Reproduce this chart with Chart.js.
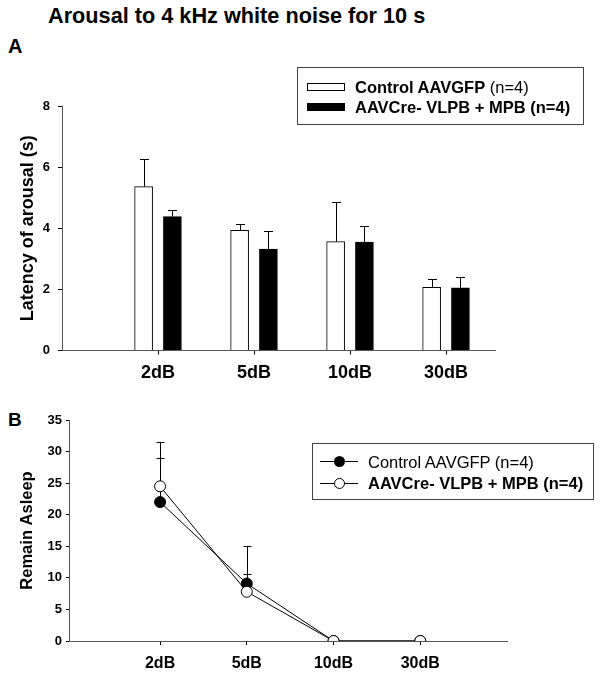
<!DOCTYPE html>
<html>
<head>
<meta charset="utf-8">
<script src="https://cdn.jsdelivr.net/npm/chart.js@4.4.1/dist/chart.umd.min.js"></script>
<style>
  body { margin: 0; background: #fff; font-family: 'Liberation Sans', Arial, sans-serif; color: #000; }
  #page { position: relative; width: 602px; height: 677px; overflow: hidden; }
  canvas { position: absolute; left: 0; }
  .txt { position: absolute; white-space: nowrap; line-height: 1; }
  .legend { position: absolute; border: 1px solid #444; box-sizing: border-box; }
  .row { position: absolute; white-space: nowrap; font-size: 16.5px; line-height: 20px; }
</style>
</head>
<body>
<div id="page">
  <div class="txt" style="left:48px; top:5px; font-size:21.7px; font-weight:bold;">Arousal to 4 kHz white noise for 10 s</div>
  <div class="txt" style="left:8px; top:36px; font-size:20px; font-weight:bold;">A</div>
  <div class="txt" style="left:8px; top:410px; font-size:19px; font-weight:bold;">B</div>

  <canvas id="chartA" width="602" height="390" style="top:0px;"></canvas>
  <canvas id="chartB" width="602" height="287" style="top:390px;"></canvas>

  <div class="legend" style="left:297px; top:67px; width:287px; height:58px;"></div>
  <div style="position:absolute; left:307px; top:83px; width:38px; height:8px; border:1px solid #000; box-sizing:border-box; background:#fff;"></div>
  <div class="row" style="left:355px; top:77px;"><b>Control AAVGFP</b> (n=4)</div>
  <div style="position:absolute; left:307px; top:103px; width:38px; height:8px; background:#000;"></div>
  <div class="row" style="left:355px; top:97px; font-weight:bold;">AAVCre- VLPB + MPB (n=4)</div>

  <div class="legend" style="left:312px; top:443px; width:282px; height:57px;"></div>
  <div style="position:absolute; left:320px; top:461px; width:38px; height:1px; background:#000;"></div>
  <div style="position:absolute; left:334px; top:456px; width:11px; height:11px; border-radius:50%; background:#000;"></div>
  <div class="row" style="left:368px; top:452px;">Control AAVGFP (n=4)</div>
  <div style="position:absolute; left:320px; top:483px; width:38px; height:1px; background:#000;"></div>
  <div style="position:absolute; left:334px; top:478px; width:11px; height:11px; border-radius:50%; background:#fff; border:1px solid #000; box-sizing:border-box;"></div>
  <div class="row" style="left:368px; top:473px; font-weight:bold;">AAVCre- VLPB + MPB (n=4)</div>
</div>

<script>
// stimulus intensities
const doseLabels = ['2dB', '5dB', '10dB', '30dB'];

// panel A: latency of arousal (s), mean and SE
const latencyControl = [5.36, 3.93, 3.56, 2.07];
const latencyControlSE = [0.89, 0.20, 1.31, 0.27];
const latencyCre = [4.38, 3.32, 3.55, 2.05];
const latencyCreSE = [0.21, 0.59, 0.51, 0.36];

// panel B: remain asleep, mean and SE
const asleepControl = [22, 9.1, 0, 0];
const asleepControlSE = [7, 5.9, 0, 0];
const asleepCre = [24.5, 7.8, 0, 0];
const asleepCreSE = [7, 2.8, 0, 0];

const FONT = "'Liberation Sans', Arial, sans-serif";
Chart.defaults.font.family = FONT;
Chart.defaults.color = '#000';
Chart.defaults.animation = false;

// upward-only error bars, drawn with the chart's own y scale
const errorBars = {
  id: 'errorBars',
  draw(chart, opts) {
    const ctx = chart.ctx;
    const yScale = chart.scales.y;
    ctx.save();
    ctx.strokeStyle = '#000';
    ctx.lineWidth = 1;
    chart.data.datasets.forEach((ds, i) => {
      const se = opts.se[i];
      if (!se) return;
      chart.getDatasetMeta(i).data.forEach((el, j) => {
        if (!se[j]) return;
        const v = ds.data[j].y;
        const x = Math.round(el.x) + 0.5;
        const y0 = yScale.getPixelForValue(v);
        const y1 = Math.round(yScale.getPixelForValue(v + se[j])) + 0.5;
        ctx.beginPath();
        ctx.moveTo(x, y0);
        ctx.lineTo(x, y1);
        ctx.moveTo(x - opts.cap / 2, y1);
        ctx.lineTo(x + opts.cap / 2, y1);
        ctx.stroke();
      });
    });
    ctx.restore();
  },
  beforeDatasetsDraw(chart, args, opts) { if (opts.behind) this.draw(chart, opts); },
  afterDatasetsDraw(chart, args, opts) { if (!opts.behind) this.draw(chart, opts); }
};

function catTicks(scale) {
  scale.ticks = doseLabels.map((l, i) => ({ value: i + 1 }));
}

// ---- panel A: grouped bars ----
new Chart(document.getElementById('chartA'), {
  type: 'bar',
  data: {
    datasets: [
      {
        label: 'Control AAVGFP (n=4)',
        data: latencyControl.map((v, i) => ({ x: i + 1 - 0.15, y: v })),
        backgroundColor: '#fff',
        borderColor: '#000',
        borderWidth: 1
      },
      {
        label: 'AAVCre- VLPB + MPB (n=4)',
        data: latencyCre.map((v, i) => ({ x: i + 1 + 0.15, y: v })),
        backgroundColor: '#000',
        borderColor: '#000',
        borderWidth: 1
      }
    ]
  },
  options: {
    responsive: false,
    grouped: false,
    barThickness: 18,
    layout: { padding: { left: 14, right: 107, top: 106, bottom: 0 } },
    scales: {
      x: {
        type: 'linear',
        offset: false,
        min: 0,
        max: 4.51,
        afterBuildTicks: catTicks,
        afterFit: s => { s.height = 39.5; },
        grid: { offset: false, drawOnChartArea: false, drawTicks: true, tickLength: 4, color: '#000' },
        border: { display: true, color: '#555', width: 1 },
        ticks: {
          padding: 7.5,
          font: { size: 18, weight: 'bold' },
          callback: v => doseLabels[v - 1]
        }
      },
      y: {
        min: 0,
        max: 8,
        afterFit: s => { s.width = 48; },
        grid: { drawOnChartArea: false, drawTicks: true, tickLength: 4, color: '#000' },
        border: { display: true, color: '#555', width: 1 },
        ticks: { stepSize: 2, padding: 8, font: { size: 13, weight: 'bold' } },
        title: {
          display: true,
          text: 'Latency of arousal (s)',
          font: { size: 18, weight: 'bold' },
          padding: { top: 3.7, bottom: 0 }
        }
      }
    },
    plugins: {
      legend: { display: false },
      tooltip: { enabled: false },
      errorBars: { se: [latencyControlSE, latencyCreSE], cap: 9, behind: false }
    }
  },
  plugins: [errorBars]
});

// ---- panel B: lines with markers ----
new Chart(document.getElementById('chartB'), {
  type: 'scatter',
  data: {
    datasets: [
      {
        label: 'Control AAVGFP (n=4)',
        data: asleepControl.map((v, i) => ({ x: i + 1, y: v })),
        showLine: true,
        borderColor: '#000',
        borderWidth: 1,
        pointRadius: 5.5,
        pointBackgroundColor: '#000',
        pointBorderColor: '#000',
        order: 1
      },
      {
        label: 'AAVCre- VLPB + MPB (n=4)',
        data: asleepCre.map((v, i) => ({ x: i + 1, y: v })),
        showLine: true,
        borderColor: '#000',
        borderWidth: 1,
        pointRadius: 5.5,
        pointBackgroundColor: '#fff',
        pointBorderColor: '#000',
        order: 0
      }
    ]
  },
  options: {
    responsive: false,
    layout: { padding: { left: 14, right: 95, top: 30, bottom: 0 } },
    scales: {
      x: {
        type: 'linear',
        min: -0.05,
        max: 5,
        afterBuildTicks: catTicks,
        afterFit: s => { s.height = 36; },
        grid: { drawOnChartArea: false, drawTicks: true, tickLength: 4, color: '#000' },
        border: { display: true, color: '#555', width: 1 },
        ticks: {
          padding: 8.7,
          font: { size: 16, weight: 'bold' },
          callback: v => doseLabels[v - 1]
        }
      },
      y: {
        min: 0,
        max: 35,
        afterFit: s => { s.width = 55; },
        grid: { drawOnChartArea: false, drawTicks: true, tickLength: 3, color: '#000' },
        border: { display: true, color: '#555', width: 1 },
        ticks: { stepSize: 5, padding: 4, font: { size: 13, weight: 'bold' } },
        title: {
          display: true,
          text: 'Remain Asleep',
          font: { size: 16.5, weight: 'bold' },
          padding: { top: 3.1, bottom: 0 }
        }
      }
    },
    plugins: {
      legend: { display: false },
      tooltip: { enabled: false },
      errorBars: { se: [asleepControlSE, asleepCreSE], cap: 8, behind: true }
    }
  },
  plugins: [errorBars]
});
</script>
</body>
</html>
